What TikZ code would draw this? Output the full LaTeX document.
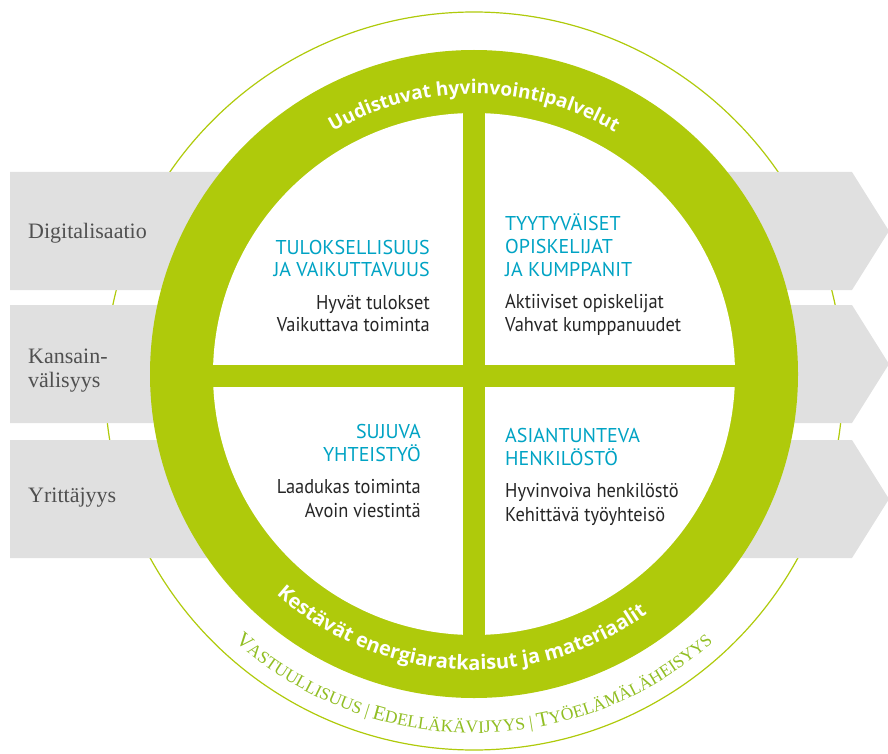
\documentclass[tikz,border=0pt]{standalone}
\usepackage{fontspec}
\usetikzlibrary{calc,decorations.text}
\setmainfont{Liberation Serif}
\newfontfamily\quadfont{PT Sans}
\newfontfamily\bodyfont[FakeStretch=0.92]{PT Sans}
\newfontfamily\ringfont{Open Sans}
\newfontfamily\labelfont{Liberation Serif}

\definecolor{ringgreen}{RGB}{175,202,11}
\definecolor{outergreen}{RGB}{145,190,35}
\definecolor{bandgrey}{RGB}{224,224,224}
\definecolor{headcyan}{RGB}{0,163,196}
\definecolor{labelgrey}{RGB}{80,80,80}

\newcommand{\ringtext}{\ringfont\bfseries\fontsize{19}{19}\selectfont}
\newcommand{\ringtextlow}{\ringfont\bfseries\fontsize{20}{20}\selectfont}
\newcommand{\bigsc}{\labelfont\fontsize{21}{21}\selectfont}
\newcommand{\smallsc}{\labelfont\fontsize{17.5}{17.5}\selectfont}

\tikzset{
    band/.style={fill=bandgrey, draw=none},
    head/.style={font=\quadfont\fontsize{20}{22}\selectfont, text=headcyan, inner sep=0pt},
    body/.style={font=\bodyfont\fontsize{20}{22}\selectfont, text=black!85, inner sep=0pt},
    label/.style={font=\labelfont\fontsize{22}{24}\selectfont, text=labelgrey, inner sep=0pt, anchor=base west}
}

\begin{document}
\begin{tikzpicture}[x=1pt, y=-1pt]
    \useasboundingbox (0,0) rectangle (888,754);
    \coordinate (c) at (474,374);
    \coordinate (o) at (474,381);

    % thin outer circle
    \draw[ringgreen, line width=1.2pt] (o) circle[radius=369];

    % grey bands
    \fill[band] (10,172) -- (852,172) -- (889,231) -- (852,290) -- (10,290) -- cycle;
    \fill[band] (10,305) -- (852,305) -- (889,364) -- (852,423) -- (10,423) -- cycle;
    \fill[band] (10,440) -- (852,440) -- (889,499) -- (852,558) -- (10,558) -- cycle;

    % ring and cross
    \fill[ringgreen] (c) circle[radius=324];
    \fill[white] (c) circle[radius=261];
    \fill[ringgreen] (463,100) rectangle (485,650);
    \fill[ringgreen] (200,365) rectangle (750,387);

    % texts on the ring
    \path[decorate, decoration={text along path, text align=center, text color=white,
        text={|\ringtext|Uudistuvat hyvinvointipalvelut}}]
        ($(c)+(210:280)$) arc[start angle=210, end angle=330, radius=280];
    \path[decorate, decoration={text along path, text align=center, text color=white,
        text={|\ringtextlow|Kestävät energiaratkaisut ja materiaalit}}]
        ($(c)+(148:296)$) arc[start angle=148, end angle=38, radius=296];
    \path[decorate, decoration={text along path, text align=center, text color=outergreen,
        text format delimiters={[}{]},
        text={[\bigsc]V[\smallsc]ASTUULLISUUS | [\bigsc]E[\smallsc]DELLÄKÄVIJYYS | [\bigsc]T[\smallsc]YÖELÄMÄLÄHEISYYS}}]
        ($(c)+(140:359)$) arc[start angle=140, end angle=40, radius=359];

    % band labels
    \node[label] (dig) at (28,238) {Digitalisaatio};
    \node[label] (kan1) at (28,363) {Kansain-};
    \node[label] (kan2) at (28,387) {välisyys};
    \node[label] (yri) at (28,502) {Yrittäjyys};

    % top left
    \node[head, anchor=base east] (tl1) at (430,254) {TULOKSELLISUUS};
    \node[head, anchor=base east] (tl2) at (430,276) {JA VAIKUTTAVUUS};
    \node[body, anchor=base east] (tl3) at (430,309) {Hyvät tulokset};
    \node[body, anchor=base east] (tl4) at (430,331) {Vaikuttava toiminta};

    % top right
    \node[head, anchor=base west] (tr1) at (505,230) {TYYTYVÄISET};
    \node[head, anchor=base west] (tr2) at (505,253) {OPISKELIJAT};
    \node[head, anchor=base west] (tr3) at (505,276) {JA KUMPPANIT};
    \node[body, anchor=base west] (tr4) at (505,308) {Aktiiviset opiskelijat};
    \node[body, anchor=base west] (tr5) at (505,331) {Vahvat kumppanuudet};

    % bottom left
    \node[head, anchor=base east] (bl1) at (421,438) {SUJUVA};
    \node[head, anchor=base east] (bl2) at (421,461) {YHTEISTYÖ};
    \node[body, anchor=base east] (bl3) at (421,493) {Laadukas toiminta};
    \node[body, anchor=base east] (bl4) at (421,517) {Avoin viestintä};

    % bottom right
    \node[head, anchor=base west] (br1) at (505,442) {ASIANTUNTEVA};
    \node[head, anchor=base west] (br2) at (505,465) {HENKILÖSTÖ};
    \node[body, anchor=base west] (br3) at (505,497) {Hyvinvoiva henkilöstö};
    \node[body, anchor=base west] (br4) at (505,521) {Kehittävä työyhteisö};
\end{tikzpicture}
\end{document}
